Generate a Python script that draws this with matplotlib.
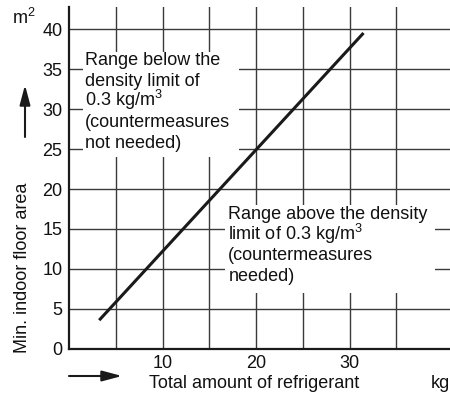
import matplotlib
matplotlib.use("Agg")
import matplotlib.pyplot as plt
from matplotlib.patches import Rectangle, FancyArrowPatch

plt.rcParams['font.family'] = ['Liberation Sans', 'DejaVu Sans']
plt.rcParams['mathtext.fontset'] = 'custom'
plt.rcParams['mathtext.rm'] = 'Liberation Sans'
plt.rcParams['mathtext.it'] = 'Liberation Sans'

# Minimum floor area vs. refrigerant charge (limit line)
refrigerant_kg = [3.2, 31.5]
floor_area_m2 = [3.6, 39.5]

x_major = [10, 20, 30]
x_minor = [5, 15, 25, 35]
y_ticks = [0, 5, 10, 15, 20, 25, 30, 35, 40]

below_lines = ["Range below the", "density limit of", "0.3 kg/m$^3$",
               "(countermeasures", "not needed)"]
above_lines = ["Range above the density", "limit of 0.3 kg/m$^3$",
               "(countermeasures", "needed)"]

FS = 13.0
INK = '#111111'

fig = plt.figure(figsize=(4.5, 3.96), dpi=100)
ax = fig.add_axes([0.154, 0.1187, 0.846, 0.8636])
ax.set_xlim(0, 40.76)
ax.set_ylim(0, 42.75)

ax.set_xticks(x_major)
ax.set_xticks(x_minor, minor=True)
ax.set_yticks(y_ticks)
ax.tick_params(axis='both', which='both', length=0, labelsize=FS, colors=INK)
ax.tick_params(axis='y', pad=5)
ax.tick_params(axis='x', pad=4)
ax.grid(True, which='both', color='#3a3a3a', linewidth=1.0)
ax.set_axisbelow(True)

for s in ('top', 'right'):
    ax.spines[s].set_visible(False)
for s in ('left', 'bottom'):
    ax.spines[s].set_linewidth(1.6)
    ax.spines[s].set_color('#1a1a1a')
    ax.spines[s].set_zorder(5)

# white panels behind the two region captions
ax.add_patch(Rectangle((1.47, 24.0), 16.7, 13.1, facecolor='white',
                       edgecolor='none', zorder=2))
ax.add_patch(Rectangle((16.68, 7.0), 22.5, 11.0, facecolor='white',
                       edgecolor='none', zorder=2))

ax.plot(refrigerant_kg, floor_area_m2, color='#1a1a1a', linewidth=2.2,
        solid_capstyle='butt', zorder=4)

line_step = 20.7 / 8.0  # baseline spacing in data units
for i, t in enumerate(below_lines):
    ax.text(1.69, 35.5 - i * line_step, t, fontsize=FS, va='baseline',
            ha='left', color=INK, zorder=3)
for i, t in enumerate(above_lines):
    ax.text(17.03, 16.25 - i * line_step, t, fontsize=FS, va='baseline',
            ha='left', color=INK, zorder=3)

# Axis captions and direction arrows
fig.text(23 / 450, 1 - 268 / 396, "Min. indoor floor area", rotation=90,
         fontsize=FS, ha='center', va='center', color=INK)
fig.text(254 / 450, 1 - 384 / 396, "Total amount of refrigerant",
         fontsize=FS, ha='center', va='center', color=INK)
fig.text(440 / 450, 1 - 384 / 396, "kg", fontsize=FS, ha='center', va='center',
         color=INK)
fig.text(12 / 450, 1 - 24 / 396, "m$^2$", fontsize=FS, ha='left', va='baseline',
         color=INK)

arrow_style = '-|>,head_length=12,head_width=3.2'
fig.patches.append(FancyArrowPatch(
    (25 / 450, 1 - 137 / 396), (25 / 450, 1 - 85 / 396),
    transform=fig.transFigure, arrowstyle=arrow_style,
    color='#1a1a1a', linewidth=1.5, mutation_scale=1, shrinkA=0, shrinkB=0))
fig.patches.append(FancyArrowPatch(
    (69 / 450, 1 - 376 / 396), (122 / 450, 1 - 376 / 396),
    transform=fig.transFigure, arrowstyle=arrow_style,
    color='#1a1a1a', linewidth=1.5, mutation_scale=1, shrinkA=0, shrinkB=0))

fig.savefig("out.png", dpi=100, facecolor='white')
